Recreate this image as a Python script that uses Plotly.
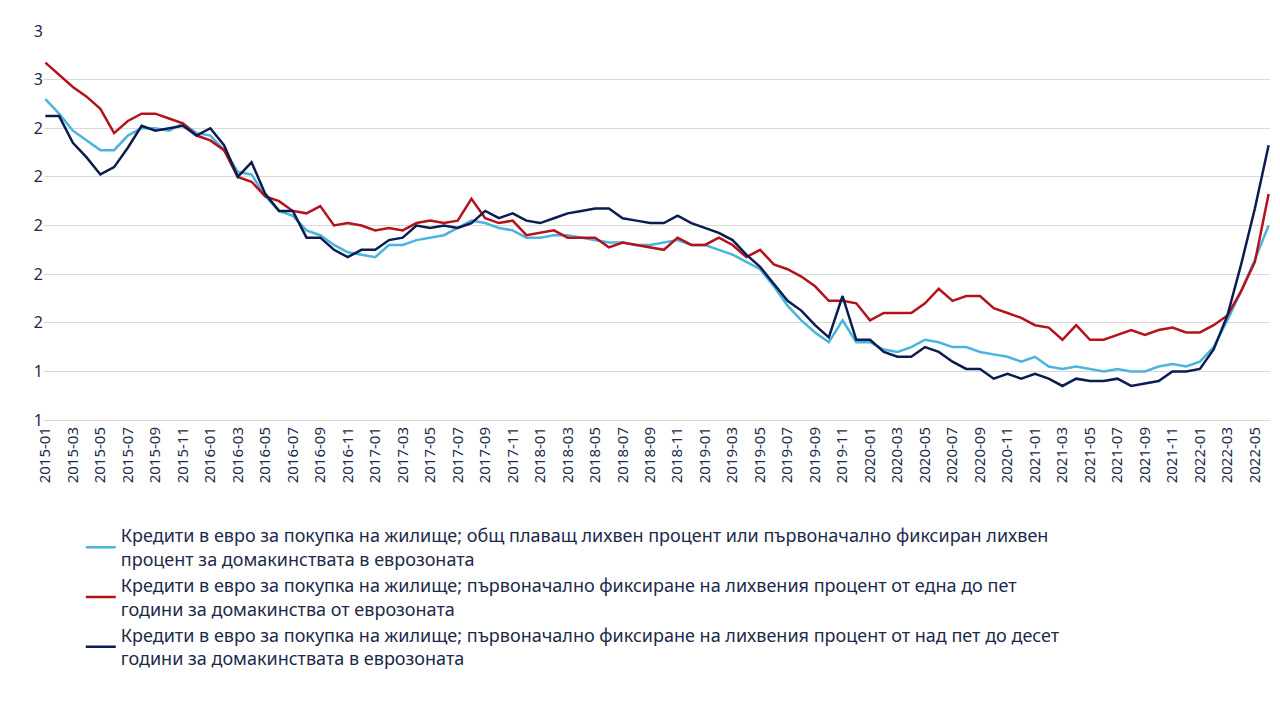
import pandas as pd
import plotly.graph_objects as go

months = [str(p) for p in pd.period_range("2015-01", "2022-06", freq="M")]

floating = [2.52, 2.46, 2.39, 2.35, 2.31, 2.31, 2.37, 2.40, 2.40, 2.39, 2.42, 2.38,
            2.37, 2.31, 2.22, 2.21, 2.12, 2.06, 2.04, 1.98, 1.96, 1.92, 1.89, 1.88,
            1.87, 1.92, 1.92, 1.94, 1.95, 1.96, 1.99, 2.02, 2.01, 1.99, 1.98, 1.95,
            1.95, 1.96, 1.96, 1.95, 1.94, 1.93, 1.93, 1.92, 1.92, 1.93, 1.94, 1.92,
            1.92, 1.90, 1.88, 1.85, 1.82, 1.75, 1.67, 1.61, 1.56, 1.52, 1.61, 1.52,
            1.52, 1.49, 1.48, 1.50, 1.53, 1.52, 1.50, 1.50, 1.48, 1.47, 1.46, 1.44,
            1.46, 1.42, 1.41, 1.42, 1.41, 1.40, 1.41, 1.40, 1.40, 1.42, 1.43, 1.42,
            1.44, 1.50, 1.61, 1.73, 1.86, 2.00]

fix_1_5 = [2.67, 2.62, 2.57, 2.53, 2.48, 2.38, 2.43, 2.46, 2.46, 2.44, 2.42, 2.37,
           2.35, 2.31, 2.20, 2.18, 2.12, 2.10, 2.06, 2.05, 2.08, 2.00, 2.01, 2.00,
           1.98, 1.99, 1.98, 2.01, 2.02, 2.01, 2.02, 2.11, 2.03, 2.01, 2.02, 1.96,
           1.97, 1.98, 1.95, 1.95, 1.95, 1.91, 1.93, 1.92, 1.91, 1.90, 1.95, 1.92,
           1.92, 1.95, 1.92, 1.87, 1.90, 1.84, 1.82, 1.79, 1.75, 1.69, 1.69, 1.68,
           1.61, 1.64, 1.64, 1.64, 1.68, 1.74, 1.69, 1.71, 1.71, 1.66, 1.64, 1.62,
           1.59, 1.58, 1.53, 1.59, 1.53, 1.53, 1.55, 1.57, 1.55, 1.57, 1.58, 1.56,
           1.56, 1.59, 1.63, 1.73, 1.85, 2.13]

fix_5_10 = [2.45, 2.45, 2.34, 2.28, 2.21, 2.24, 2.32, 2.41, 2.39, 2.40, 2.41, 2.37,
            2.40, 2.33, 2.20, 2.26, 2.13, 2.06, 2.06, 1.95, 1.95, 1.90, 1.87, 1.90,
            1.90, 1.94, 1.95, 2.00, 1.99, 2.00, 1.99, 2.01, 2.06, 2.03, 2.05, 2.02,
            2.01, 2.03, 2.05, 2.06, 2.07, 2.07, 2.03, 2.02, 2.01, 2.01, 2.04, 2.01,
            1.99, 1.97, 1.94, 1.88, 1.83, 1.76, 1.69, 1.65, 1.59, 1.54, 1.71, 1.53,
            1.53, 1.48, 1.46, 1.46, 1.50, 1.48, 1.44, 1.41, 1.41, 1.37, 1.39, 1.37,
            1.39, 1.37, 1.34, 1.37, 1.36, 1.36, 1.37, 1.34, 1.35, 1.36, 1.40, 1.40,
            1.41, 1.49, 1.63, 1.84, 2.07, 2.33]

names = [
    "Кредити в евро за покупка на жилище; общ плаващ лихвен процент или първоначално фиксиран лихвен<br>процент за домакинствата в еврозоната",
    "Кредити в евро за покупка на жилище; първоначално фиксиране на лихвения процент от една до пет<br>години за домакинства от еврозоната",
    "Кредити в евро за покупка на жилище; първоначално фиксиране на лихвения процент от над пет до десет<br>години за домакинствата в еврозоната",
]
colors = ["#4AB4DE", "#B5121B", "#0B1D4F"]

fig = go.Figure()
for ys, name, color in zip([floating, fix_1_5, fix_5_10], names, colors):
    fig.add_trace(go.Scatter(x=months, y=ys, mode="lines", name=name,
                             line=dict(color=color, width=2.5)))

fig.update_layout(
    width=1280, height=720,
    plot_bgcolor="white", paper_bgcolor="white",
    font=dict(family="Noto Sans", color="#1B2A4A", size=16),
    margin=dict(l=36, r=18, t=17, b=308),
    xaxis=dict(type="category", tickvals=months[::2], tickangle=-90,
               showgrid=False, showline=True, linecolor="#d9d9d9",
               tickfont=dict(size=15), range=[-0.1, len(months) - 0.9]),
    yaxis=dict(range=[1.2, 2.8], dtick=0.2, tick0=1.2, tickformat=".0f",
               gridcolor="#d9d9d9", zeroline=False, tickfont=dict(size=16)),
    legend=dict(x=0.03, y=-0.25, xanchor="left", yanchor="top",
                tracegroupgap=26, font=dict(size=18)),
)

fig.write_html("out.html")
